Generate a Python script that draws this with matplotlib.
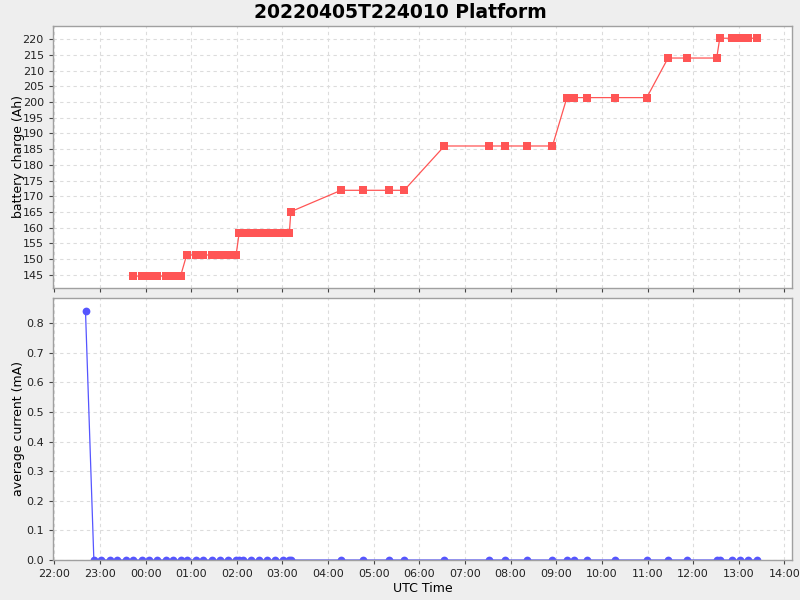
import matplotlib
matplotlib.use("Agg")
import matplotlib.pyplot as plt
import matplotlib.dates as mdates
import pandas as pd

# readings (UTC, HH:MM); times after 20:00 are on 2022-04-05, the rest on 2022-04-06
current_times = [
    "22:41", "22:52", "23:02", "23:13", "23:23", "23:34", "23:44", "23:55",
    "00:04", "00:15", "00:27", "00:36", "00:46", "00:54", "01:06", "01:15",
    "01:27", "01:38", "01:48", "01:59", "02:03", "02:08", "02:19", "02:29",
    "02:40", "02:50", "03:01", "03:09", "03:11", "04:17", "04:46", "05:20",
    "05:40", "06:33", "07:31", "07:53", "08:21", "08:55", "09:14", "09:24",
    "09:41", "10:17", "10:59", "11:27", "11:52", "12:31", "12:35", "12:51",
    "13:02", "13:12", "13:24",
]
current_ma = [0.84] + [0.0] * (len(current_times) - 1)

charge_times = current_times[6:]
charge_ah = (
    [144.6] * 7
    + [151.3] * 7
    + [158.2] * 8
    + [165.1]
    + [171.9] * 4
    + [186.0] * 5
    + [201.4] * 5
    + [214.0] * 3
    + [220.3] * 5
)

charge_ticks = list(range(145, 225, 5))
current_ticks = [0.0, 0.1, 0.2, 0.3, 0.4, 0.5, 0.6, 0.7, 0.8]


def to_dt(hhmm):
    day = "2022-04-05" if int(hhmm[:2]) >= 20 else "2022-04-06"
    return pd.Timestamp(f"{day} {hhmm}")


current_dt = [to_dt(t) for t in current_times]
charge_dt = [to_dt(t) for t in charge_times]

bg = "#eeeeee"
grid_col = "#dcdcdc"
edge_col = "#a0a0a0"

fig = plt.figure(figsize=(8, 6), dpi=100, facecolor=bg)
ax1 = fig.add_axes([0.066, 0.52, 0.924, 0.4367])
ax2 = fig.add_axes([0.066, 0.0667, 0.924, 0.4367], sharex=ax1)

ax1.plot(charge_dt, charge_ah, color="#ff5555", linewidth=0.9,
         marker="s", markersize=5.4, markeredgewidth=0)
ax2.plot(current_dt, current_ma, color="#5555ff", linewidth=0.9,
         marker="o", markersize=5.6, markeredgewidth=0)

xmin = pd.Timestamp("2022-04-05 21:58")
xmax = pd.Timestamp("2022-04-06 14:10")
ax1.set_xlim(xmin, xmax)
ax1.set_ylim(140.8, 224.2)
ax2.set_ylim(0, 0.885)

ax1.set_yticks(charge_ticks)
ax2.set_yticks(current_ticks)
ax2.set_yticklabels([f"{v:.1f}" for v in current_ticks])

ax2.xaxis.set_major_locator(mdates.HourLocator(interval=1))
ax2.xaxis.set_major_formatter(mdates.DateFormatter("%H:%M"))
plt.setp(ax1.get_xticklabels(), visible=False)
ax1.tick_params(axis="x", length=0)

for ax in (ax1, ax2):
    ax.set_facecolor("white")
    ax.grid(True, color=grid_col, linestyle=(0, (3, 3)), linewidth=0.8)
    ax.set_axisbelow(True)
    for s in ax.spines.values():
        s.set_color(edge_col)
        s.set_linewidth(1.0)
    ax.tick_params(labelsize=8, colors="#444444", labelcolor="#222222",
                   length=3, width=0.8)

ax1.set_ylabel("battery charge (Ah)", fontsize=9)
ax2.set_ylabel("average current (mA)", fontsize=9)
ax2.set_xlabel("UTC Time", fontsize=9, labelpad=2)
ax1.yaxis.set_label_coords(-0.038, 0.5)
ax2.yaxis.set_label_coords(-0.038, 0.5)

fig.text(0.5, 0.98, "20220405T224010 Platform", ha="center", va="center",
         fontsize=13.5, fontweight="bold")

fig.savefig("out.png", dpi=100, facecolor=bg)
